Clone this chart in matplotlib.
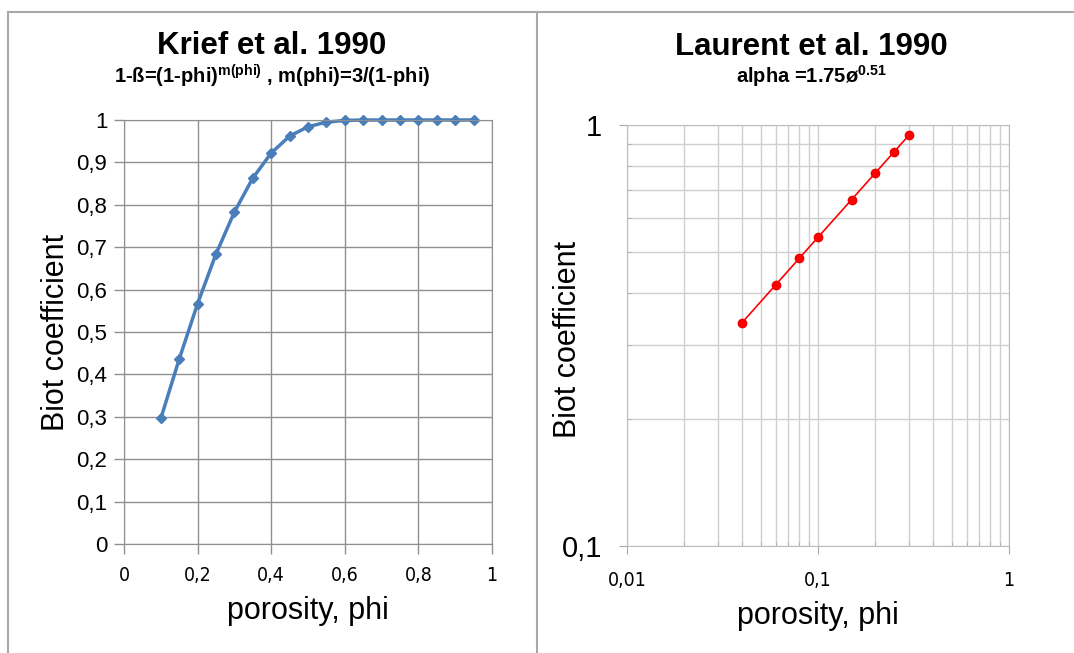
import numpy as np
import matplotlib
matplotlib.use("Agg")
import matplotlib.pyplot as plt
from matplotlib.lines import Line2D
from matplotlib.ticker import FuncFormatter, FixedLocator, LogLocator, NullFormatter

plt.rcParams['font.family'] = ['Liberation Sans', 'DejaVu Sans']
plt.rcParams['mathtext.fontset'] = 'custom'
plt.rcParams['mathtext.rm'] = 'Liberation Sans'
plt.rcParams['mathtext.bf'] = 'Liberation Sans:bold'
plt.rcParams['mathtext.it'] = 'Liberation Sans:italic'

# Krief et al. 1990
krief_phi = [0.10, 0.15, 0.20, 0.25, 0.30, 0.35, 0.40, 0.45, 0.50, 0.55,
             0.60, 0.65, 0.70, 0.75, 0.80, 0.85, 0.90, 0.95]
krief_biot = [0.296, 0.436, 0.567, 0.684, 0.783, 0.863, 0.922, 0.962, 0.984, 0.995,
              0.999, 1.0, 1.0, 1.0, 1.0, 1.0, 1.0, 1.0]

# Laurent et al. 1990
laurent_phi = [0.04, 0.06, 0.08, 0.10, 0.15, 0.20, 0.25, 0.30]
laurent_biot = [0.339, 0.417, 0.483, 0.541, 0.665, 0.770, 0.863, 0.947]

lin_ticks_x = [0, 0.2, 0.4, 0.6, 0.8, 1]
lin_ticks_y = [0, 0.1, 0.2, 0.3, 0.4, 0.5, 0.6, 0.7, 0.8, 0.9, 1]


def comma(v, pos=None):
    return f"{v:g}".replace('.', ',')


def narrow(ax):
    # condensed look for the x tick labels
    for lab in ax.get_xticklabels():
        lab.set_family('DejaVu Sans')
        lab.set_stretch('condensed')


fig = plt.figure(figsize=(10.74, 6.53), dpi=100)

# panel frame lines
frame_col = '#a8a8a8'
fig.add_artist(Line2D([8 / 1074, 1], [1 - 12 / 653] * 2, color=frame_col, lw=1.5))
fig.add_artist(Line2D([8 / 1074] * 2, [0, 1 - 12 / 653], color=frame_col, lw=1.5))
fig.add_artist(Line2D([537 / 1074] * 2, [0, 1 - 12 / 653], color=frame_col, lw=1.5))

# ---- left chart
ax1 = fig.add_axes([124 / 1074, 1 - 544 / 653, 368 / 1074, 424 / 653])
ax1.plot(krief_phi, krief_biot, color='#4a7ebb', lw=2.5, marker='D', ms=5.5,
         markeredgecolor='#4a7ebb', clip_on=False)
ax1.set_xlim(0, 1)
ax1.set_ylim(0, 1)
ax1.xaxis.set_major_locator(FixedLocator(lin_ticks_x))
ax1.yaxis.set_major_locator(FixedLocator(lin_ticks_y))
ax1.xaxis.set_major_formatter(FuncFormatter(comma))
ax1.yaxis.set_major_formatter(FuncFormatter(comma))
ax1.grid(True, color='#8f8f8f', lw=1)
ax1.set_axisbelow(True)
for s in ax1.spines.values():
    s.set_color('#8f8f8f')
ax1.tick_params(axis='both', color='#8f8f8f', length=7, width=1)
ax1.tick_params(axis='y', labelsize=16, pad=5)
ax1.tick_params(axis='x', labelsize=14, pad=9)
narrow(ax1)
ax1.set_xlabel('porosity, phi', fontsize=22, labelpad=8)
ax1.set_ylabel('Biot coefficient', fontsize=22, labelpad=4)

# ---- right chart
ax2 = fig.add_axes([627 / 1074, 1 - 546 / 653, 382 / 1074, 421 / 653])
ax2.set_xscale('log')
ax2.set_yscale('log')
ax2.plot(laurent_phi, laurent_biot, color='#ff0000', lw=1.2, marker='o', ms=6,
         markeredgecolor='#ee0000')
ax2.set_xlim(0.01, 1)
ax2.set_ylim(0.1, 1)
ax2.xaxis.set_major_locator(FixedLocator([0.01, 0.1, 1]))
ax2.yaxis.set_major_locator(FixedLocator([0.1, 1]))
ax2.xaxis.set_minor_locator(LogLocator(base=10, subs=np.arange(2, 10)))
ax2.yaxis.set_minor_locator(LogLocator(base=10, subs=np.arange(2, 10)))
ax2.xaxis.set_major_formatter(FuncFormatter(comma))
ax2.yaxis.set_major_formatter(FuncFormatter(comma))
ax2.xaxis.set_minor_formatter(NullFormatter())
ax2.yaxis.set_minor_formatter(NullFormatter())
ax2.grid(True, which='both', color='#cfcfcf', lw=1)
ax2.set_axisbelow(True)
for s in ax2.spines.values():
    s.set_color('#bdbdbd')
ax2.tick_params(axis='both', which='major', color='#aaaaaa', length=6)
ax2.tick_params(axis='both', which='minor', color='#aaaaaa', length=3, direction='in')
ax2.tick_params(axis='y', which='major', labelsize=21, pad=12)
ax2.tick_params(axis='x', which='major', labelsize=14, pad=12)
narrow(ax2)
ax2.set_xlabel('porosity, phi', fontsize=22, labelpad=8)
ax2.set_ylabel('Biot coefficient', fontsize=22)
ax2.yaxis.set_label_coords(-44 / 382, 0.49)

# ---- titles
fig.text(272 / 1074, 1 - 46 / 653, 'Krief et al. 1990', ha='center', va='center',
         fontsize=22.5, fontweight='bold')
fig.text(272 / 1074, 1 - 76 / 653,
         r'1-ß=(1-phi)$^{\mathbf{m(phi)}}$ , m(phi)=3/(1-phi)',
         ha='center', va='center', fontsize=14.5, fontweight='bold')
fig.text(811 / 1074, 1 - 47 / 653, 'Laurent et al. 1990', ha='center', va='center',
         fontsize=22.5, fontweight='bold')
fig.text(811 / 1074, 1 - 76 / 653, r'alpha =1.75ø$^{\mathbf{0.51}}$',
         ha='center', va='center', fontsize=14.5, fontweight='bold')

fig.savefig('out.png', dpi=100)
